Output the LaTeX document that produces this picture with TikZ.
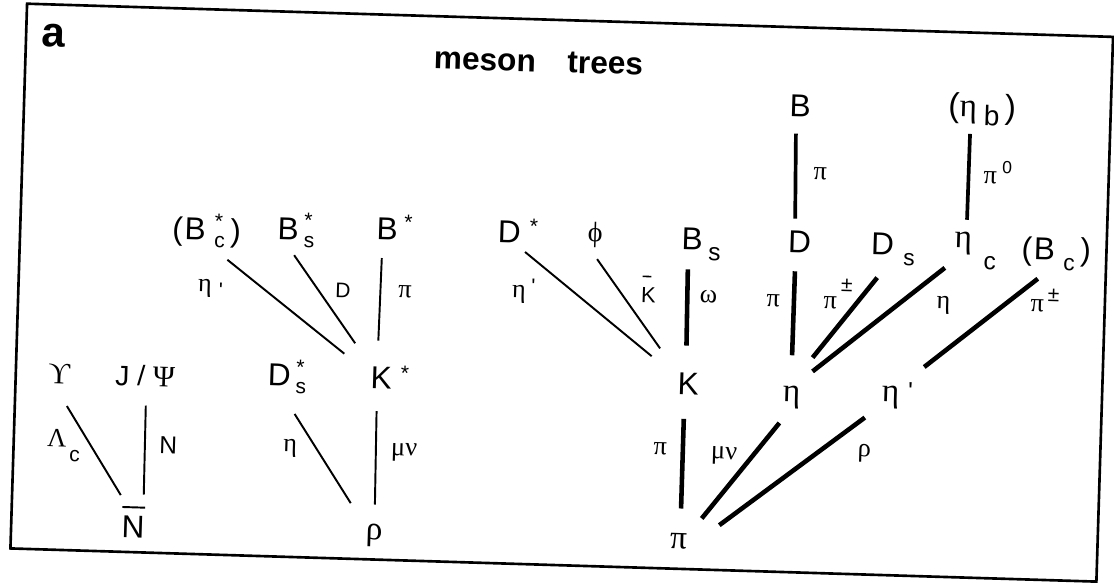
\documentclass[tikz,border=0pt]{standalone}
\usepackage{fontspec}
\setmainfont{Liberation Sans}
\newfontfamily\grk{Liberation Serif}
\newcommand{\scr}{\fontsize{12}{12}\selectfont}

\begin{document}
\begin{tikzpicture}[
  part/.style={circle, inner sep=0pt, text height=13pt, text depth=4pt, anchor=base, font=\fontsize{18}{20}\selectfont},
  gpart/.style={part, font=\fontsize{19}{20}\selectfont\grk},
  lab/.style={anchor=base, inner sep=0pt, font=\fontsize{12}{14}\selectfont},
  glab/.style={lab, font=\fontsize{15}{16}\selectfont\grk},
  lnk/.style={line width=1.1pt},
  lnkb/.style={line width=2.6pt},
  lnkm/.style={line width=2.1pt}]
  \useasboundingbox (0,0) rectangle (22.28,-11.68);
  \begin{scope}[rotate around={-1.75:(11.14,-5.84)}, transform shape]
  \draw[line width=1.5pt] (0.37,-0.40) rectangle (22.10,-11.30);
  \node[anchor=base, font=\fontsize{24}{24}\selectfont\bfseries] (tag) at (0.91,-1.25) {a};
  \node[anchor=base, font=\fontsize{18}{20}\selectfont\bfseries] (title) at (10.63,-1.45) {meson\quad trees};

  \node[gpart, minimum size=35pt, font=\fontsize{17}{18}\selectfont\grk] (ups) at (1.24,-7.98) {\makebox[0pt]{ϒ}};
  \node[part, minimum size=31pt, font=\fontsize{16}{18}\selectfont] (jpsi) at (2.96,-7.97) {\makebox[0pt]{J / {\grk\fontsize{17}{18}\selectfont Ψ}}};
  \node[part, minimum size=42pt] (nbar) at (2.81,-11.02) {\makebox[0pt]{\rlap{\raisebox{17pt}{\rule{13pt}{1.1pt}}}N}};
  \node[part, minimum size=48pt] (bcs) at (3.87,-5.02) {\makebox[0pt]{\llap{(\kern1pt}B\rlap{\kern5pt\rlap{\raisebox{7pt}{\scr*}}\raisebox{-4pt}{\scr c}\kern3pt)}}};
  \node[part, minimum size=27pt] (bss) at (5.73,-4.96) {\makebox[0pt]{B\rlap{\kern3pt\rlap{\raisebox{7pt}{\scr*}}\raisebox{-4pt}{\scr s}}}};
  \node[part, minimum size=30pt] (bst) at (7.71,-4.90) {\makebox[0pt]{B\rlap{\kern3.5pt\raisebox{6pt}{\scr*}}}};
  \node[part, minimum size=44pt] (dss) at (5.64,-7.89) {\makebox[0pt]{D\rlap{\kern3pt\rlap{\raisebox{7pt}{\scr*}}\raisebox{-4pt}{\scr s}}}};
  \node[part, minimum size=34pt] (kst) at (7.68,-7.89) {\makebox[0pt]{K\rlap{\kern5pt\raisebox{5pt}{\scr*}}}};
  \node[gpart, minimum size=31pt] (rho) at (7.63,-10.91) {\makebox[0pt]{ρ}};

  \node[part, minimum size=26pt] (dst) at (10.15,-4.89) {\makebox[0pt]{D\rlap{\kern5pt\raisebox{6pt}{\scr*}}}};
  \node[gpart, minimum size=28pt, font=\fontsize{16}{18}\selectfont\grk] (phi) at (11.87,-4.82) {\makebox[0pt]{ϕ}};
  \node[part, minimum size=31pt] (bs) at (13.81,-4.92) {\makebox[0pt]{B\rlap{\kern3.5pt\raisebox{-5.7pt}{\fontsize{14}{14}\selectfont s}}}};
  \node[part, minimum size=30pt] (d) at (15.96,-4.91) {\makebox[0pt]{D}};
  \node[part, minimum size=35pt] (ds) at (17.62,-4.90) {\makebox[0pt]{D\rlap{\kern5.5pt\raisebox{-5.7pt}{\fontsize{13}{13}\selectfont s}}}};
  \node[gpart, minimum size=23pt] (etac) at (19.23,-4.71) {\makebox[0pt]{η\rlap{\rmfamily\kern7pt\raisebox{-12pt}{\fontsize{14}{14}\selectfont c}}}};
  \node[part, minimum size=31pt] (bc) at (20.86,-4.90) {\makebox[0pt]{\llap{(\kern1pt}B\rlap{\kern5pt\raisebox{-5.7pt}{\fontsize{13}{13}\selectfont c}\kern3pt)}}};
  \node[part, minimum size=28pt] (b) at (15.89,-2.19) {\makebox[0pt]{B}};
  \node[gpart, minimum size=28pt] (etab) at (19.25,-2.09) {\makebox[0pt]{\llap{\rmfamily(}η\rlap{\rmfamily\kern4pt\raisebox{-4.5pt}{\fontsize{16}{16}\selectfont b}\kern3pt)}}};
  \node[part, minimum size=36pt] (k) at (13.82,-7.82) {\makebox[0pt]{K}};
  \node[gpart, minimum size=35pt] (eta) at (15.89,-7.90) {\makebox[0pt]{η}};
  \node[gpart, minimum size=39pt] (etap) at (17.87,-7.84) {\makebox[0pt]{η\rlap{\rmfamily\kern5pt\raisebox{2pt}{\fontsize{14}{14}\selectfont\textquotesingle}}}};
  \node[gpart, minimum size=36pt] (pib) at (13.72,-10.89) {\makebox[0pt]{π}};

  \node[glab] (lamc) at (1.23,-9.23) {Λ\rlap{\rmfamily\kern2pt\raisebox{-8.5pt}{\scr c}}};
  \node[lab, font=\fontsize{14}{14}\selectfont] (nl) at (3.46,-9.32) {N};
  \node[glab] (etal) at (5.90,-9.20) {η};
  \node[glab] (muvl) at (8.18,-9.21) {μν};
  \node[glab] (etapl) at (4.10,-6.05) {η\rlap{\rmfamily\kern4pt\raisebox{-3pt}{\scr\textquotesingle}}};
  \node[lab] (dl) at (6.86,-6.09) {D};
  \node[glab] (pil) at (8.10,-6.05) {π};
  \node[glab] (etapm) at (10.38,-5.98) {η\rlap{\rmfamily\kern3pt\raisebox{2.5pt}{\scr\textquotesingle}}};
  \node[lab, font=\fontsize{12.5}{14}\selectfont] (kbar) at (12.97,-6.00) {\rlap{\kern0.5pt\raisebox{14.5pt}{\rule{5pt}{0.9pt}}}K};
  \node[glab] (omega) at (14.17,-5.97) {ω};
  \node[glab] (pidl) at (15.47,-6.01) {π};
  \node[glab] (pipm) at (16.61,-6.01) {π\rlap{\rmfamily\kern2pt\raisebox{10pt}{\scr ±}}};
  \node[glab] (etar) at (18.87,-5.94) {η};
  \node[glab] (pipmr) at (20.75,-5.95) {π\rlap{\rmfamily\kern2pt\raisebox{6pt}{\scr ±}}};
  \node[glab] (pibd) at (16.33,-3.44) {π};
  \node[glab] (pizero) at (19.73,-3.42) {π\rlap{\rmfamily\kern3pt\raisebox{6.3pt}{\fontsize{10}{10}\selectfont 0}}};
  \node[glab] (pikl) at (13.30,-9.02) {π};
  \node[glab] (muvr) at (14.58,-9.08) {μν};
  \node[glab] (rhol) at (17.38,-8.95) {ρ};

  \draw[lnk] (ups.-74) -- (nbar.111);
  \draw[lnk] (jpsi.-87) -- (nbar.75);
  \draw[lnk, shorten >=9pt] (bcs.-39) -- (kst.146);
  \draw[lnk, shorten >=9pt] (bss.-74) -- (kst.126);
  \draw[lnk, shorten >=6pt] (bst.-100) -- (kst.98);
  \draw[lnk, shorten >=5.5pt] (dss.-65) -- (rho.133);
  \draw[lnk] (kst.-97) -- (rho.90);
  \draw[lnk, shorten >=9pt] (dst.-45) -- (k.141);
  \draw[lnk, shorten >=9pt] (phi.-84) -- (k.128);
  \draw[lnkb, shorten >=5.5pt] (bs.-97) -- (k.95);
  \draw[lnkb] (k.-96) -- (pib.87);
  \draw[lnkm] (b.-98) -- (d.101);
  \draw[lnkb, shorten >=4.5pt] (d.-98) -- (eta.91);
  \draw[lnkb, shorten >=6.5pt] (ds.-98) -- (eta.65);
  \draw[lnkb, shorten <=8pt] (etac.-109) -- (eta.49);
  \draw[lnkm] (etab.-84) -- (etac.81);
  \draw[lnkb, shorten >=5pt] (bc.-102) -- (etap.41);
  \draw[lnkb] (eta.-111) -- (pib.45);
  \draw[lnkb, shorten >=7pt] (etap.-136) -- (pib.16);
  \end{scope}
\end{tikzpicture}
\end{document}
